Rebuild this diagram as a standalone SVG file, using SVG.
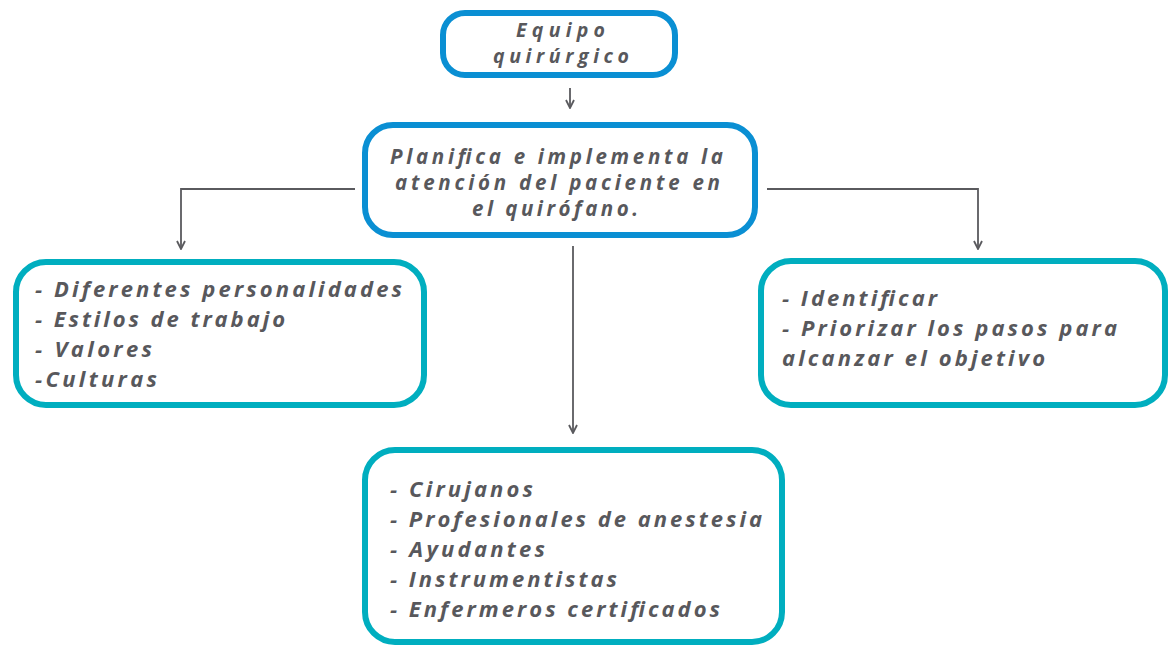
<svg xmlns="http://www.w3.org/2000/svg" width="1170" height="646" viewBox="0 0 1170 646">
<style>
.blue{fill:#fff;stroke:#0A8FD3;stroke-width:6}
.teal{fill:#fff;stroke:#00AEBF;stroke-width:6}
.t{font-family:"Open Sans","Liberation Sans",sans-serif;font-weight:bold;font-style:italic;font-size:22px;fill:#58585C}
.s{font-size:20.5px}
.u{font-size:19.5px}
.c{fill:none;stroke:#5A5A5E;stroke-width:1.8}
</style>
<defs>
<marker id="ah" viewBox="0 0 10 10" refX="9" refY="5" markerWidth="10" markerHeight="10" markerUnits="userSpaceOnUse" orient="auto">
<path d="M1,1 L9,5 L1,9" fill="none" stroke="#5A5A5E" stroke-width="1.8"/>
</marker>
</defs>
<rect width="1170" height="646" fill="#fff"/>
<g id="connectors">
<path class="c" d="M570,88 V108" marker-end="url(#ah)"/>
<path class="c" d="M355,189 H181 V249" marker-end="url(#ah)"/>
<path class="c" d="M767,189 H978 V249" marker-end="url(#ah)"/>
<path class="c" d="M573,246 V433" marker-end="url(#ah)"/>
</g>
<g id="n-equipo">
<rect class="blue" x="443" y="13" width="232" height="62" rx="22"/>
<text class="t u" x="516" y="37" textLength="89" lengthAdjust="spacing">Equipo</text>
<text class="t u" x="493" y="63" textLength="136" lengthAdjust="spacing">quirúrgico</text>
</g>
<g id="n-planifica">
<rect class="blue" x="365" y="125" width="390" height="110" rx="28"/>
<text class="t s" x="390" y="164" textLength="333" lengthAdjust="spacing">Planifica e implementa la</text>
<text class="t s" x="395" y="190" textLength="325" lengthAdjust="spacing">atención del paciente en</text>
<text class="t s" x="472" y="216" textLength="166" lengthAdjust="spacing">el quirófano.</text>
</g>
<g id="n-diferentes">
<rect class="teal" x="16" y="262" width="408" height="143" rx="30"/>
<text class="t" x="35" y="297" textLength="367" lengthAdjust="spacing">- Diferentes personalidades</text>
<text class="t" x="35" y="327" textLength="250" lengthAdjust="spacing">- Estilos de trabajo</text>
<text class="t" x="35" y="357" textLength="117" lengthAdjust="spacing">- Valores</text>
<text class="t" x="35" y="387" textLength="122" lengthAdjust="spacing">-Culturas</text>
</g>
<g id="n-identificar">
<rect class="teal" x="761" y="261" width="404" height="144" rx="30"/>
<text class="t" x="782" y="306" textLength="155" lengthAdjust="spacing">- Identificar</text>
<text class="t" x="782" y="336" textLength="335" lengthAdjust="spacing">- Priorizar los pasos para</text>
<text class="t" x="782" y="366" textLength="263" lengthAdjust="spacing">alcanzar el objetivo</text>
</g>
<g id="n-cirujanos">
<rect class="teal" x="365" y="450" width="417" height="192" rx="30"/>
<text class="t" x="390" y="497" textLength="143" lengthAdjust="spacing">- Cirujanos</text>
<text class="t" x="390" y="527" textLength="372" lengthAdjust="spacing">- Profesionales de anestesia</text>
<text class="t" x="390" y="557" textLength="155" lengthAdjust="spacing">- Ayudantes</text>
<text class="t" x="390" y="587" textLength="227" lengthAdjust="spacing">- Instrumentistas</text>
<text class="t" x="390" y="617" textLength="330" lengthAdjust="spacing">- Enfermeros certificados</text>
</g>
</svg>
